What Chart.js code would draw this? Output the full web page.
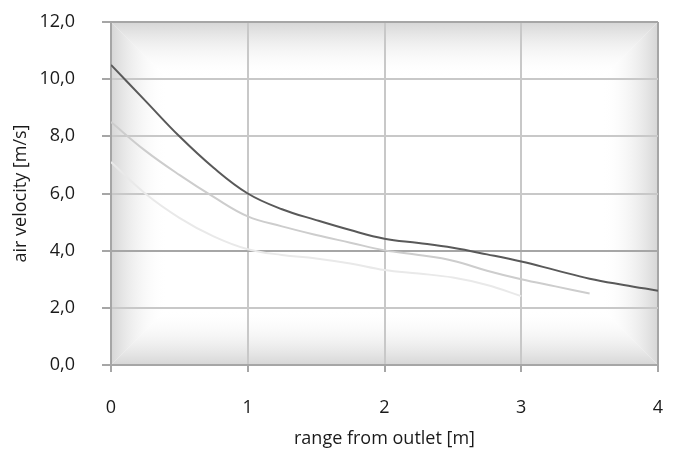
<!DOCTYPE html>
<html>
<head>
<meta charset="utf-8">
<script src="https://cdn.jsdelivr.net/npm/chart.js@4.4.1/dist/chart.umd.min.js"></script>
<style>
  html, body { margin: 0; padding: 0; background: #fff; }
  #wrap { width: 677px; height: 452px; }
</style>
</head>
<body>
<div id="wrap"><canvas id="chart" width="677" height="452"></canvas></div>
<script>
// distance from outlet [m]
const rangeValues = [0, 0.25, 0.5, 0.75, 1, 1.25, 1.5, 1.75, 2, 2.25, 2.5, 2.75, 3, 3.25, 3.5, 3.75, 4];

// air velocity [m/s]
const velocityHigh = [10.5, 9.25, 8.0, 6.9, 6.0, 5.45, 5.07, 4.72, 4.42, 4.27, 4.1, 3.87, 3.62, 3.32, 3.02, 2.8, 2.6];
const velocityMid = [8.5, 7.5, 6.65, 5.88, 5.2, 4.85, 4.55, 4.28, 4.01, 3.85, 3.65, 3.3, 3.0, 2.75, 2.5];
const velocityLow = [7.1, 6.0, 5.15, 4.5, 4.05, 3.85, 3.73, 3.55, 3.32, 3.2, 3.06, 2.8, 2.41];

const yTicks = [0, 2, 4, 6, 8, 10, 12];
const xTicks = [0, 1, 2, 3, 4];

function toPoints(values) {
  return values.map((v, i) => ({ x: rangeValues[i], y: v }));
}

function fmtComma(v) {
  return v.toFixed(1).replace('.', ',');
}

// grey path gradient behind the plot, like the office chart fill
const plotBackground = {
  id: 'plotBackground',
  beforeDraw(chart) {
    const { ctx, chartArea: a } = chart;
    const band = 56;
    const edge = '#d6d6d6';
    ctx.save();
    ctx.fillStyle = '#ffffff';
    ctx.fillRect(a.left, a.top, a.right - a.left, a.bottom - a.top);

    const sides = [
      { poly: [[a.left, a.top], [a.left + band, a.top + band], [a.left + band, a.bottom - band], [a.left, a.bottom]], g: [a.left, 0, a.left + band, 0] },
      { poly: [[a.right, a.top], [a.right - band, a.top + band], [a.right - band, a.bottom - band], [a.right, a.bottom]], g: [a.right, 0, a.right - band, 0] },
      { poly: [[a.left, a.top], [a.left + band, a.top + band], [a.right - band, a.top + band], [a.right, a.top]], g: [0, a.top, 0, a.top + band] },
      { poly: [[a.left, a.bottom], [a.left + band, a.bottom - band], [a.right - band, a.bottom - band], [a.right, a.bottom]], g: [0, a.bottom, 0, a.bottom - band] }
    ];
    sides.forEach(s => {
      const grad = ctx.createLinearGradient(s.g[0], s.g[1], s.g[2], s.g[3]);
      grad.addColorStop(0, edge);
      grad.addColorStop(1, 'rgba(255,255,255,0)');
      ctx.beginPath();
      s.poly.forEach((p, i) => i ? ctx.lineTo(p[0], p[1]) : ctx.moveTo(p[0], p[1]));
      ctx.closePath();
      ctx.fillStyle = grad;
      ctx.fill();
    });
    ctx.restore();
  }
};

Chart.defaults.font.family = '"Open Sans", sans-serif';
Chart.defaults.font.size = 18;
Chart.defaults.color = '#1a1a1a';

const gridColor = ctx => (ctx.index === 0 || ctx.tick.value === 12 || ctx.tick.value === 4) ? '#a6a6a6' : '#c8c8c8';

new Chart(document.getElementById('chart'), {
  type: 'line',
  data: {
    datasets: [
      { label: 'high', data: toPoints(velocityHigh), borderColor: '#595959' },
      { label: 'mid', data: toPoints(velocityMid), borderColor: '#cdcdcd' },
      { label: 'low', data: toPoints(velocityLow), borderColor: '#e9e9e9' }
    ]
  },
  options: {
    responsive: false,
    animation: false,
    layout: { padding: { top: 22, right: 19, bottom: 0, left: 0 } },
    elements: {
      line: { borderWidth: 2, tension: 0.4, fill: false },
      point: { radius: 0 }
    },
    plugins: {
      legend: { display: false },
      tooltip: { enabled: false }
    },
    scales: {
      x: {
        type: 'linear',
        min: 0,
        max: 4,
        afterBuildTicks: scale => { scale.ticks = xTicks.map(v => ({ value: v })); },
        ticks: { padding: 25, callback: v => String(v) },
        grid: { color: gridColor, lineWidth: 2, tickLength: 7, tickColor: '#a6a6a6' },
        border: { color: '#a6a6a6', width: 2 },
        title: { display: true, text: 'range from outlet [m]', padding: { top: 0, bottom: 2 } },
        afterFit: scale => {
          scale.height = 87;
          scale.paddingLeft = 0;
          scale.paddingRight = 0;
        }
      },
      y: {
        min: 0,
        max: 12,
        afterBuildTicks: scale => { scale.ticks = yTicks.map(v => ({ value: v })); },
        ticks: { padding: 27, callback: v => fmtComma(v) },
        grid: { color: gridColor, lineWidth: 2, tickLength: 9, tickColor: '#a6a6a6' },
        border: { color: '#a6a6a6', width: 2 },
        title: { display: true, text: 'air velocity [m/s]', padding: { top: 10, bottom: 0 } },
        afterFit: scale => {
          scale.width = 111;
          scale.paddingTop = 0;
          scale.paddingBottom = 0;
        }
      }
    }
  },
  plugins: [plotBackground]
});
</script>
</body>
</html>
